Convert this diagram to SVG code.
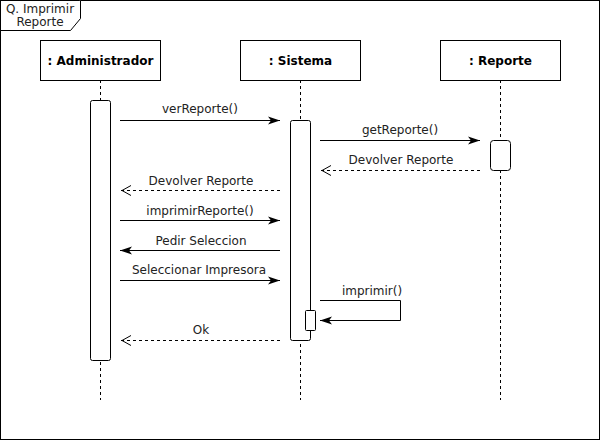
<svg xmlns="http://www.w3.org/2000/svg" width="601" height="441" viewBox="0 0 601 441">
<defs>
<marker id="fill" viewBox="0 0 12 10" refX="12" refY="5" markerWidth="12" markerHeight="10" markerUnits="userSpaceOnUse" orient="auto">
<path d="M0,1 L12,5 L0,9 L3,5 Z" fill="#000"/>
</marker>
<marker id="open" viewBox="0 0 12 12" refX="0" refY="6" markerWidth="12" markerHeight="12" markerUnits="userSpaceOnUse" orient="auto">
<path d="M10,1 L1,6 L10,11" fill="none" stroke="#000" stroke-width="1"/>
</marker>
<style>
.box{fill:#fff;stroke:#000;stroke-width:1}
.hdr{font-family:"DejaVu Sans",sans-serif;font-size:12px;font-weight:bold;text-anchor:middle;fill:#000}
.life{stroke:#000;stroke-width:1;stroke-dasharray:3 3;fill:none}
.act{fill:#fff;stroke:#000;stroke-width:1}
.msg{stroke:#000;stroke-width:1;fill:none}
.call{marker-end:url(#fill)}
.ret{stroke-dasharray:3 3;marker-start:url(#open)}
.lbl{font-family:"DejaVu Sans",sans-serif;font-size:12px;text-anchor:middle;fill:#222}
</style>
</defs>
<g id="frame">
<rect x="0.5" y="0.5" width="599" height="439" fill="#fff" stroke="#000"/>
<path d="M0.5,30.5 H70.5 L80.5,18.5 V0.5" fill="#fff" stroke="#000"/>
<text class="lbl" x="40" y="13">Q. Imprimir</text>
<text class="lbl" x="40" y="26">Reporte</text>
</g>
<g id="administrador">
<line class="life" x1="100.5" y1="80" x2="100.5" y2="400"/>
<rect class="box" x="40.5" y="40.5" width="120" height="40"/>
<text class="hdr" x="100.5" y="65">: Administrador</text>
<rect class="act" x="90.5" y="100.5" width="20" height="260" rx="2"/>
</g>
<g id="sistema">
<line class="life" x1="300.5" y1="80" x2="300.5" y2="400"/>
<rect class="box" x="240.5" y="40.5" width="120" height="40"/>
<text class="hdr" x="300.5" y="65">: Sistema</text>
<rect class="act" x="290.5" y="120.5" width="20" height="220" rx="2"/>
<rect class="act" x="305.5" y="310.5" width="10" height="20" rx="1"/>
</g>
<g id="reporte">
<line class="life" x1="500.5" y1="80" x2="500.5" y2="400"/>
<rect class="box" x="440.5" y="40.5" width="120" height="40"/>
<text class="hdr" x="500.5" y="65">: Reporte</text>
<rect class="act" x="490.5" y="140.5" width="20" height="30" rx="3"/>
</g>
<g id="connectors">
<line class="msg call" x1="120" y1="120.5" x2="280" y2="120.5"/>
<text class="lbl" x="200" y="113">verReporte()</text>
<line class="msg call" x1="320" y1="140.5" x2="480" y2="140.5"/>
<text class="lbl" x="400" y="134">getReporte()</text>
<line class="msg ret" x1="321" y1="170.5" x2="480" y2="170.5"/>
<text class="lbl" x="401" y="164">Devolver Reporte</text>
<line class="msg ret" x1="121" y1="190.5" x2="280" y2="190.5"/>
<text class="lbl" x="201" y="185">Devolver Reporte</text>
<line class="msg call" x1="120" y1="220.5" x2="280" y2="220.5"/>
<text class="lbl" x="200" y="215">imprimirReporte()</text>
<line class="msg call" x1="280" y1="250.5" x2="120" y2="250.5"/>
<text class="lbl" x="201" y="245">Pedir Seleccion</text>
<line class="msg call" x1="120" y1="280.5" x2="280" y2="280.5"/>
<text class="lbl" x="199" y="274">Seleccionar Impresora</text>
<path class="msg call" d="M320,300.5 H400.5 V320.5 H320"/>
<text class="lbl" x="372" y="295">imprimir()</text>
<line class="msg ret" x1="121" y1="340.5" x2="280" y2="340.5"/>
<text class="lbl" x="201" y="334">Ok</text>
</g>
</svg>
